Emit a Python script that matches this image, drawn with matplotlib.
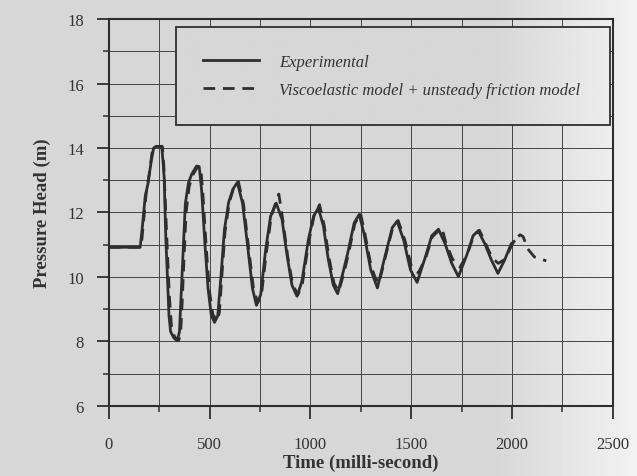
import numpy as np
import matplotlib
matplotlib.use("Agg")
import matplotlib.pyplot as plt
from matplotlib.ticker import MultipleLocator

# experimental trace (time in ms, head in m)
exp_t = [0, 155, 165, 180, 194, 210, 222, 234, 262, 268, 274, 282, 290, 298, 306,
         323, 339, 350, 355, 368, 379, 395, 411, 435, 448, 460, 476, 492, 508, 524,
         540, 556, 573, 594, 616, 637, 663, 688, 712, 732, 753, 778, 802, 830, 859,
         884, 908, 933, 957, 990, 1015, 1039, 1064, 1088, 1113, 1135, 1160, 1184,
         1217, 1242, 1266, 1299, 1332, 1365, 1406, 1430, 1463, 1496, 1529, 1570,
         1602, 1635, 1668, 1701, 1734, 1775, 1807, 1832, 1865, 1898, 1930, 1963,
         1996, 2010]
exp_h = [10.92, 10.92, 11.5, 12.5, 12.9, 13.6, 14.0, 14.05, 14.05, 13.6, 13.1, 11.25,
         10.03, 8.8, 8.3, 8.1, 8.02, 8.3, 9.0, 10.75, 12.27, 12.93, 13.19, 13.44,
         13.42, 12.68, 11.05, 9.63, 8.81, 8.59, 8.8, 10.03, 11.46, 12.32, 12.73,
         12.93, 12.29, 10.97, 9.65, 9.12, 9.45, 10.87, 11.88, 12.29, 11.78, 10.66,
         9.75, 9.4, 9.85, 11.17, 11.88, 12.14, 11.58, 10.56, 9.75, 9.48, 10.1, 10.72,
         11.68, 11.94, 11.33, 10.22, 9.66, 10.52, 11.53, 11.73, 11.13, 10.22, 9.83,
         10.62, 11.28, 11.48, 11.03, 10.42, 10.01, 10.67, 11.28, 11.43, 11.03, 10.52,
         10.11, 10.52, 11.03, 11.1]

# viscoelastic + unsteady friction model
mod_t = [0, 160, 170, 185, 200, 215, 228, 265, 272, 280, 290, 300, 310, 325, 345,
         355, 362, 372, 383, 398, 415, 440, 455, 466, 482, 498, 515, 537, 548, 560,
         576, 597, 618, 642, 668, 693, 717, 738, 757, 782, 806, 830, 843, 862, 888,
         912, 938, 960, 992, 1018, 1045, 1068, 1092, 1117, 1140, 1165, 1188, 1220,
         1248, 1270, 1300, 1320, 1340, 1365, 1405, 1435, 1468, 1500, 1535, 1572,
         1605, 1652, 1672, 1705, 1742, 1778, 1810, 1838, 1868, 1900, 1932, 1965,
         2000, 2020, 2040, 2055, 2078, 2111, 2150, 2170]
mod_h = [10.92, 10.92, 11.6, 12.6, 13.2, 13.9, 14.05, 14.05, 13.5, 12.3, 10.8, 9.4,
         8.5, 8.15, 8.02, 8.2, 9.0, 10.5, 12.0, 12.8, 13.15, 13.42, 13.42, 12.6, 11.0,
         9.6, 8.85, 8.62, 8.9, 10.0, 11.4, 12.3, 12.75, 12.96, 12.25, 10.9, 9.65, 9.2,
         9.45, 10.8, 11.9, 12.35, 12.57, 11.8, 10.6, 9.75, 9.45, 9.8, 11.1, 11.9,
         12.24, 11.6, 10.6, 9.8, 9.55, 10.1, 10.7, 11.65, 11.98, 11.35, 10.35, 10.0,
         9.8, 10.45, 11.45, 11.75, 11.15, 10.35, 10.12, 10.6, 11.25, 11.53, 11.05,
         10.55, 10.3, 10.7, 11.28, 11.45, 11.05, 10.6, 10.42, 10.55, 11.0, 11.18,
         11.31, 11.25, 10.87, 10.62, 10.54, 10.5]

ink = "#2e2e2e"
plt.rcParams["font.family"] = ["Liberation Serif", "DejaVu Serif"]

W, H = 637, 477
fig = plt.figure(figsize=(W / 100, H / 100), dpi=100)

# scanned paper: grey on the left, lighter towards the right edge
cols = np.arange(W)
shade = np.clip(0.84 + (cols - 490) / (W - 490) * 0.11, 0.84, 0.95)
paper = np.tile(shade, (H, 1))
bgax = fig.add_axes([0, 0, 1, 1], zorder=-1)
bgax.imshow(paper, cmap="gray", vmin=0, vmax=1, aspect="auto",
            extent=(0, W, H, 0))
bgax.axis("off")

ax = fig.add_axes([0.171, 0.147, 0.791, 0.811], facecolor="none")

ax.plot(exp_t, exp_h, color=ink, lw=2.0, label="Experimental", zorder=3)
ax.plot(mod_t, mod_h, color=ink, lw=2.0, linestyle=(0, (4.2, 2.8)),
        label="Viscoelastic model + unsteady friction model", zorder=4)

ax.set_xlim(0, 2500)
ax.set_ylim(6, 18)
ax.xaxis.set_major_locator(MultipleLocator(500))
ax.xaxis.set_minor_locator(MultipleLocator(250))
ax.yaxis.set_major_locator(MultipleLocator(2))
ax.yaxis.set_minor_locator(MultipleLocator(1))
ax.grid(which="both", color="#444444", lw=0.7)
ax.set_axisbelow(True)

for s in ax.spines.values():
    s.set_linewidth(1.5)
    s.set_color(ink)
ax.tick_params(which="major", length=9, width=1.3, color=ink, labelsize=12,
               labelcolor="#333333")
ax.tick_params(which="minor", length=4.5, width=1.1, color=ink)
ax.tick_params(axis="x", which="major", pad=13)
ax.tick_params(axis="y", which="major", pad=9)

ax.set_xlabel("Time (milli-second)", fontsize=13.5, fontweight="bold",
              color="#333333", labelpad=1)
ax.set_ylabel("Pressure Head (m)", fontsize=13.5, fontweight="bold",
              color="#333333", labelpad=12)

leg = ax.legend(loc="upper left", bbox_to_anchor=(0.133, 0.5, 0.861, 0.479),
                mode="expand", borderaxespad=0, fancybox=False, framealpha=1,
                facecolor="none", edgecolor=ink, borderpad=1.6,
                labelspacing=0.75, handlelength=3.4, handletextpad=1.2,
                prop={"style": "italic", "size": 12})
leg.get_frame().set_linewidth(1.3)
for t in leg.get_texts():
    t.set_color("#333333")

# paper patch behind the legend (above the grid) so grid lines stay hidden
fig.canvas.draw()
bb = leg.get_window_extent()
px0, px1 = int(bb.x0), int(np.ceil(bb.x1))
(dx0, dy0), (dx1, dy1) = ax.transData.inverted().transform(
    [(bb.x0, bb.y0), (bb.x1, bb.y1)])
ax.imshow(paper[:, px0:px1], cmap="gray", vmin=0, vmax=1, aspect="auto",
          extent=(dx0, dx1, dy0, dy1), zorder=1)
ax.set_xlim(0, 2500)
ax.set_ylim(6, 18)

fig.savefig("out.png", dpi=100)
